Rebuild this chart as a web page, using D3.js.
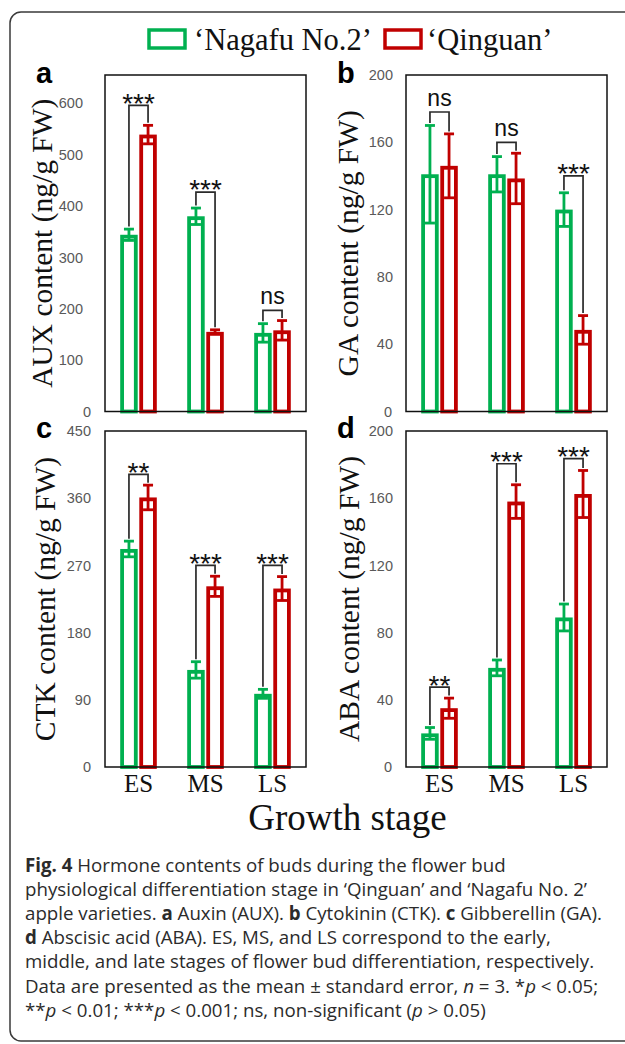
<!DOCTYPE html>
<html>
<head>
<meta charset="utf-8">
<script src="https://cdn.jsdelivr.net/npm/d3@7/dist/d3.min.js"></script>
<style>
  html, body { margin: 0; padding: 0; background: #fff; }
  svg { display: block; }
</style>
</head>
<body>
<svg id="chart" width="625" height="1044"></svg>
<script>
// ---------------- DATA ----------------
const stages = ["ES", "MS", "LS"];
const seriesNames = ["‘Nagafu No.2’", "‘Qinguan’"];

const auxNagafu = [344, 380, 153];
const auxNagafuErr = [11, 16, 18];
const auxQinguan = [539, 155, 158];
const auxQinguanErr = [18, 4, 19];
const auxSig = ["***", "***", "ns"];
const auxSigLevel = [596, 427, 197];
const auxTicks = [0, 100, 200, 300, 400, 500, 600];
const auxMax = 655;

const gaNagafu = [141, 141, 120];
const gaNagafuErr = [29, 10.5, 10];
const gaQinguan = [146, 138.5, 48.5];
const gaQinguanErr = [19, 15, 8.5];
const gaSig = ["ns", "ns", "***"];
const gaSigLevel = [178, 160, 140];
const gaTicks = [0, 40, 80, 120, 160, 200];
const gaMax = 200;

const ctkNagafu = [292, 130, 98];
const ctkNagafuErr = [10.5, 11, 6];
const ctkQinguan = [361, 242, 239];
const ctkQinguanErr = [16.5, 13.5, 16];
const ctkSig = ["**", "***", "***"];
const ctkSigLevel = [392, 270, 270];
const ctkTicks = [0, 90, 180, 270, 360, 450];
const ctkMax = 450;

const abaNagafu = [20, 59, 89];
const abaNagafuErr = [3.5, 4.7, 8];
const abaQinguan = [35, 158, 162.5];
const abaQinguanErr = [6, 10, 14];
const abaSig = ["**", "***", "***"];
const abaSigLevel = [47.5, 180.5, 183.5];
const abaTicks = [0, 40, 80, 120, 160, 200];
const abaMax = 200;

const xAxisTitle = "Growth stage";
const captionLines = [
  [["b", "Fig. 4"], ["", " Hormone contents of buds during the flower bud"]],
  [["", "physiological differentiation stage in ‘Qinguan’ and ‘Nagafu No. 2’"]],
  [["", "apple varieties. "], ["b", "a"], ["", " Auxin (AUX). "], ["b", "b"], ["", " Cytokinin (CTK). "], ["b", "c"], ["", " Gibberellin (GA)."]],
  [["b", "d"], ["", " Abscisic acid (ABA). ES, MS, and LS correspond to the early,"]],
  [["", "middle, and late stages of flower bud differentiation, respectively."]],
  [["", "Data are presented as the mean ± standard error, "], ["i", "n"], ["", " = 3. *"], ["i", "p"], ["", " < 0.05;"]],
  [["", "**"], ["i", "p"], ["", " < 0.01; ***"], ["i", "p"], ["", " < 0.001; ns, non-significant ("], ["i", "p"], ["", " > 0.05)"]]
];

// ---------------- STYLE ----------------
const GREEN = "#00B050";
const RED = "#C00000";
const SERIF = "'Liberation Serif', 'Times New Roman', serif";
const SANS = "'Liberation Sans', Arial, sans-serif";

const svg = d3.select("#chart");

// outer rounded frame
svg.append("rect")
  .attr("x", 10).attr("y", 12).attr("width", 700).attr("height", 1029)
  .attr("rx", 11).attr("ry", 11)
  .attr("fill", "none").attr("stroke", "#3a3a3a").attr("stroke-width", 1.5);

// legend
const legend = [
  { name: seriesNames[0], color: GREEN, rx: 149, tx: 194 },
  { name: seriesNames[1], color: RED, rx: 385, tx: 427 }
];
legend.forEach(l => {
  svg.append("rect").attr("x", l.rx).attr("y", 30).attr("width", 36).attr("height", 18)
    .attr("fill", "#fff").attr("stroke", l.color).attr("stroke-width", 3.5);
  svg.append("text").attr("x", l.tx).attr("y", 50)
    .attr("font-family", SERIF).attr("font-size", 30.5).attr("fill", "#111")
    .text(l.name);
});

const panels = [
  { letter: "a", title: "AUX content (ng/g FW)", n: auxNagafu, ne: auxNagafuErr, q: auxQinguan, qe: auxQinguanErr,
    sig: auxSig, lvl: auxSigLevel, ticks: auxTicks, max: auxMax, left: 105, top: 75, bottom: 411.5, titleX: 52, xLabels: false, tickPad: 22 },
  { letter: "b", title: "GA content (ng/g FW)", n: gaNagafu, ne: gaNagafuErr, q: gaQinguan, qe: gaQinguanErr,
    sig: gaSig, lvl: gaSigLevel, ticks: gaTicks, max: gaMax, left: 406, top: 75, bottom: 411.5, titleX: 358, xLabels: false, tickPad: 13 },
  { letter: "c", title: "CTK content (ng/g FW)", n: ctkNagafu, ne: ctkNagafuErr, q: ctkQinguan, qe: ctkQinguanErr,
    sig: ctkSig, lvl: ctkSigLevel, ticks: ctkTicks, max: ctkMax, left: 105, top: 431, bottom: 767, titleX: 55, xLabels: true, tickPad: 14 },
  { letter: "d", title: "ABA content (ng/g FW)", n: abaNagafu, ne: abaNagafuErr, q: abaQinguan, qe: abaQinguanErr,
    sig: abaSig, lvl: abaSigLevel, ticks: abaTicks, max: abaMax, left: 406, top: 431, bottom: 767, titleX: 359, xLabels: true, tickPad: 13 }
];

const PW = 201;          // panel plot width
const BW = 17.5;         // bar outer width
const GAP = 1.6;         // gap between paired bars
const SW = 3.8;          // bar stroke width

panels.forEach(p => {
  const g = svg.append("g");
  const x = d3.scaleBand().domain(stages).range([p.left, p.left + PW]).paddingInner(0).paddingOuter(0);
  const y = d3.scaleLinear().domain([0, p.max]).range([p.bottom, p.top]);
  const series = [
    { vals: p.n, errs: p.ne, color: GREEN, side: -1 },
    { vals: p.q, errs: p.qe, color: RED, side: 1 }
  ];
  const barCenter = (stage, side) => {
    const c = x(stage) + x.bandwidth() / 2;
    return side < 0 ? c - GAP / 2 - BW / 2 : c + GAP / 2 + BW / 2;
  };

  series.forEach(se => {
    // bars
    g.selectAll(null).data(stages).enter().append("rect")
      .attr("x", (s) => barCenter(s, se.side) - BW / 2 + SW / 2)
      .attr("y", (s, i) => y(se.vals[i]) + SW / 2)
      .attr("width", BW - SW)
      .attr("height", (s, i) => y(0) - y(se.vals[i]) - SW / 2)
      .attr("fill", "#fff").attr("stroke", se.color).attr("stroke-width", SW);
    // error bars
    const eg = g.selectAll(null).data(stages).enter().append("g")
      .attr("stroke", se.color).attr("stroke-width", 2.8).attr("fill", "none");
    eg.append("line")
      .attr("x1", s => barCenter(s, se.side)).attr("x2", s => barCenter(s, se.side))
      .attr("y1", (s, i) => y(se.vals[i] + se.errs[i])).attr("y2", (s, i) => y(se.vals[i] - se.errs[i]));
    [1, -1].forEach(sign => {
      eg.append("line")
        .attr("x1", s => barCenter(s, se.side) - 5).attr("x2", s => barCenter(s, se.side) + 5)
        .attr("y1", (s, i) => y(se.vals[i] + sign * se.errs[i]))
        .attr("y2", (s, i) => y(se.vals[i] + sign * se.errs[i]));
    });
  });

  // significance brackets
  stages.forEach((s, i) => {
    const gx = barCenter(s, -1), rx = barCenter(s, 1);
    const L = y(p.lvl[i]);
    const gTop = y(p.n[i] + p.ne[i]) - 2.5;
    const rTop = y(p.q[i] + p.qe[i]) - 2.5;
    g.append("path")
      .attr("d", `M${gx},${gTop}V${L}H${rx}V${rTop}`)
      .attr("fill", "none").attr("stroke", "#2a2a2a").attr("stroke-width", 1.7);
    const label = p.sig[i];
    const isStar = label.indexOf("*") >= 0;
    const fs = isStar ? 28 : 23;
    const base = isStar ? L - 5 + 0.44 * fs : L - 6;
    g.append("text")
      .attr("x", (gx + rx) / 2).attr("y", base)
      .attr("text-anchor", "middle")
      .attr("font-family", SANS).attr("font-size", fs).attr("fill", "#111")
      .text(label);
  });

  // frame
  g.append("rect").attr("x", p.left).attr("y", p.top).attr("width", PW).attr("height", p.bottom - p.top)
    .attr("fill", "none").attr("stroke", "#111").attr("stroke-width", 1.5);

  // y axis (labels only)
  const ax = g.append("g").attr("transform", `translate(${p.left},0)`)
    .call(d3.axisLeft(y).tickValues(p.ticks).tickSize(0).tickPadding(p.tickPad).tickFormat(d3.format("d")));
  ax.select(".domain").remove();
  ax.selectAll("text")
    .attr("font-family", SANS).attr("font-size", 14.5).attr("fill", "#595959")
    .attr("x", d => d === 0 ? -14 : -p.tickPad);

  // x axis labels
  if (p.xLabels) {
    const xa = g.append("g").attr("transform", `translate(0,${p.bottom})`)
      .call(d3.axisBottom(x).tickSize(0).tickPadding(25));
    xa.select(".domain").remove();
    xa.selectAll("text").attr("font-family", SERIF).attr("font-size", 25).attr("fill", "#111")
      .attr("dy", 0).attr("y", 25);
  }

  // y title
  g.append("text")
    .attr("transform", `translate(${p.titleX},${(p.top + p.bottom) / 2}) rotate(-90)`)
    .attr("text-anchor", "middle")
    .attr("font-family", SERIF).attr("font-size", 29.5).attr("fill", "#111")
    .text(p.title);

  // panel letter
  g.append("text")
    .attr("x", p.left - 69).attr("y", p.top + 8 + (p.top > 100 ? -1 : 0))
    .attr("font-family", SANS).attr("font-weight", "bold").attr("font-size", 29).attr("fill", "#000")
    .text(p.letter);
});

// x title
svg.append("text").attr("x", 347.5).attr("y", 830).attr("text-anchor", "middle")
  .attr("font-family", SERIF).attr("font-size", 37).attr("fill", "#111")
  .text(xAxisTitle);

// caption
const cap = svg.append("g").attr("font-family", "'Open Sans', 'Noto Sans', sans-serif")
  .attr("font-size", 18.7).attr("fill", "#2b2b2b");
captionLines.forEach((line, li) => {
  const t = cap.append("text").attr("x", 25).attr("y", 872 + li * 24.1);
  line.forEach(([style, str]) => {
    const ts = t.append("tspan").text(str);
    if (style === "b") ts.attr("font-weight", "bold");
    if (style === "i") ts.attr("font-style", "italic");
  });
});
</script>
</body>
</html>
